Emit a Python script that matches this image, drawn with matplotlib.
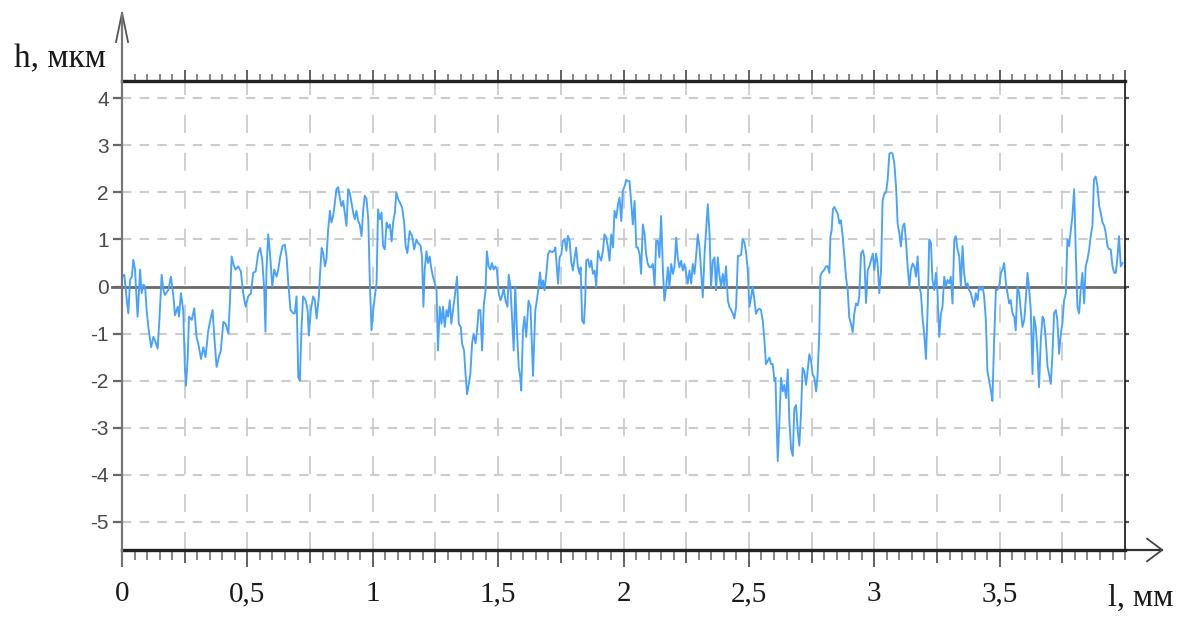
import numpy as np
import matplotlib.pyplot as plt
from matplotlib.ticker import MultipleLocator

seg1_l = [0.001, 0.009, 0.019, 0.025, 0.032, 0.039, 0.045, 0.052, 0.056, 0.062,
          0.072, 0.078, 0.085, 0.092, 0.098, 0.105, 0.116, 0.125, 0.131, 0.142,
          0.149, 0.158, 0.165, 0.171, 0.185, 0.195, 0.205, 0.211, 0.222, 0.227,
          0.235, 0.244, 0.251, 0.255, 0.262, 0.267, 0.278, 0.288, 0.297, 0.304,
          0.315, 0.324, 0.333, 0.344, 0.355, 0.361, 0.368, 0.377, 0.386, 0.394,
          0.404, 0.413, 0.424, 0.430, 0.437, 0.445, 0.453, 0.463, 0.474, 0.483,
          0.493, 0.503, 0.514, 0.523, 0.533, 0.543, 0.551, 0.559, 0.567, 0.572,
          0.576, 0.583, 0.590, 0.599, 0.607, 0.616, 0.623, 0.631, 0.640, 0.649,
          0.656, 0.663, 0.672, 0.683, 0.689, 0.696, 0.703, 0.709, 0.716, 0.722,
          0.732, 0.740, 0.745, 0.753, 0.762, 0.769, 0.776]
seg1_h = [0.21, 0.25, -0.29, -0.57, 0.14, 0.21, 0.57, 0.36, -0.07, -0.64,
          0.36, -0.14, 0.04, 0.0, -0.5, -0.86, -1.29, -1.07, -1.14, -1.32,
          -0.71, 0.25, -0.07, -0.18, -0.07, 0.21, -0.21, -0.61, -0.43, -0.64,
          -0.14, -0.5, -1.79, -2.11, -1.5, -0.64, -0.71, -0.46, -1.07, -1.21,
          -1.54, -1.29, -1.5, -0.93, -0.64, -0.5, -1.07, -1.71, -1.5, -1.36,
          -0.75, -0.79, -1.0, -0.36, 0.64, 0.46, 0.36, 0.43, 0.32, -0.14,
          -0.43, -0.21, -0.14, 0.29, 0.32, 0.71, 0.82, 0.57, -0.07, -0.96,
          0.36, 1.11, 0.71, 0.0, 0.36, 0.21, 0.36, 0.64, 0.86, 0.89,
          0.64, 0.07, -0.5, -0.57, -0.57, -0.21, -1.93, -2.0, -0.86, -0.21,
          -0.29, -0.5, -1.04, -0.5, -0.21, -0.29, -0.68]

seg2_l = [0.785, 0.789, 0.796, 0.802, 0.809, 0.815, 0.822, 0.829, 0.835, 0.842,
          0.849, 0.855, 0.862, 0.869, 0.875, 0.882, 0.888, 0.895, 0.902, 0.908,
          0.915, 0.922, 0.928, 0.935, 0.942, 0.948, 0.955, 0.962, 0.968, 0.975,
          0.982, 0.988, 0.995, 1.002, 1.008, 1.015, 1.021, 1.028, 1.035, 1.041,
          1.048, 1.055, 1.061, 1.068, 1.075, 1.081, 1.088, 1.094, 1.101, 1.108,
          1.117, 1.125, 1.131, 1.138, 1.147, 1.157, 1.165, 1.174, 1.180, 1.191,
          1.196, 1.202, 1.207, 1.214, 1.220, 1.227, 1.234, 1.240, 1.247, 1.254,
          1.260, 1.267, 1.274, 1.280, 1.287, 1.294, 1.300, 1.307, 1.313, 1.320,
          1.327, 1.336, 1.343, 1.351, 1.356, 1.364, 1.369, 1.376, 1.383, 1.389,
          1.396, 1.402, 1.410, 1.417, 1.422, 1.429, 1.436, 1.443, 1.449, 1.455,
          1.462, 1.469, 1.475, 1.482, 1.489, 1.495, 1.502, 1.509, 1.515, 1.522,
          1.529, 1.537, 1.542, 1.549, 1.555, 1.562, 1.568, 1.575, 1.582, 1.588,
          1.592, 1.599, 1.605]
seg2_h = [-0.21, 0.21, 0.82, 0.71, 0.43, 0.57, 1.21, 1.61, 1.36, 1.5,
          1.79, 2.07, 2.11, 1.86, 1.71, 1.82, 1.57, 1.29, 2.07, 2.0,
          1.79, 1.57, 1.43, 1.61, 1.39, 1.32, 1.07, 1.64, 1.93, 1.86,
          1.43, 0.14, -0.93, -0.5, -0.21, 0.07, 1.64, 1.43, 1.57, 0.86,
          0.79, 1.36, 1.25, 1.32, 0.96, 1.36, 1.57, 2.0, 1.86, 1.79,
          1.68, 1.36, 0.86, 0.71, 1.18, 1.07, 0.79, 1.0, 0.93, 0.86,
          0.64, -0.43, 0.36, 0.75, 0.5, 0.64, 0.36, 0.21, 0.07, -0.07,
          -1.36, -0.43, -0.79, -0.43, -0.86, -0.5, -0.64, -0.29, -0.79, -0.5,
          -0.21, 0.21, -0.79, -0.86, -1.21, -1.36, -1.79, -2.29, -2.07, -1.86,
          -1.21, -1.0, -1.21, -0.86, -0.5, -0.5, -1.36, -0.36, -0.14, 0.75,
          0.43, 0.36, 0.5, 0.36, 0.43, 0.36, -0.14, -0.29, -0.21, -0.04,
          -0.29, -0.43, 0.25, 0.0, -0.64, -1.36, 0.0, -0.93, -1.71, -1.93,
          -2.21, -0.93, -0.64]

seg3_l = [1.612, 1.621, 1.629, 1.635, 1.639, 1.643, 1.648, 1.656, 1.661, 1.667,
          1.672, 1.679, 1.685, 1.692, 1.699, 1.705, 1.715, 1.723, 1.728, 1.735,
          1.739, 1.745, 1.752, 1.758, 1.765, 1.772, 1.778, 1.785, 1.791, 1.798,
          1.805, 1.811, 1.818, 1.825, 1.829, 1.835, 1.842, 1.847, 1.851, 1.858,
          1.865, 1.871, 1.878, 1.885, 1.891, 1.898, 1.905, 1.911, 1.918, 1.924,
          1.931, 1.938, 1.944, 1.951, 1.958, 1.964, 1.971, 1.978, 1.984, 1.991,
          1.997, 2.004, 2.011, 2.017, 2.024, 2.031, 2.037, 2.044, 2.051, 2.057,
          2.064, 2.070, 2.077, 2.084, 2.090, 2.097, 2.104, 2.110, 2.117, 2.124,
          2.130, 2.137, 2.143, 2.150, 2.157, 2.163, 2.170, 2.177, 2.183, 2.190,
          2.197, 2.203, 2.210, 2.216, 2.223, 2.230, 2.236, 2.243, 2.250, 2.256,
          2.263, 2.270, 2.276, 2.283, 2.290, 2.296, 2.303, 2.309, 2.316, 2.323,
          2.329, 2.336, 2.343, 2.349, 2.356, 2.363, 2.369, 2.376, 2.382, 2.389,
          2.396]
seg3_h = [-1.07, -0.3, -0.44, -1.28, -1.9, -1.28, -0.51, -0.23, -0.01, 0.3,
          -0.01, 0.13, -0.08, 0.27, 0.69, 0.76, 0.73, 0.76, 0.83, 0.34,
          0.06, 0.62, 0.69, 0.97, 1.01, 0.76, 1.08, 0.97, 0.55, 0.34,
          0.62, 0.83, 0.41, 0.27, 0.41, -0.72, -0.79, -0.3, 0.55, 0.58,
          0.41, 0.55, 0.27, 0.34, -0.01, 0.76, 0.62, 0.55, 0.76, 1.11,
          1.04, 0.83, 0.55, 1.11, 0.83, 1.61, 1.46, 1.75, 1.89, 1.39,
          2.03, 2.13, 2.27, 2.24, 2.24, 1.75, 1.32, 1.82, 0.83, 0.83,
          0.69, 0.27, 1.32, 1.11, 0.69, 0.48, 0.41, 0.41, 0.48, 0.02,
          0.97, 0.97, 0.62, 1.5, 0.34, -0.3, -0.01, 0.41, -0.01, 0.48,
          0.27, 0.41, 1.04, 0.62, 0.41, 0.55, 0.34, 0.48, 0.27, 0.06,
          0.34, 0.06, 0.48, 0.27, 0.69, 1.11, 0.83, 0.34, -0.23, 0.69,
          1.18, 1.75, 1.11, -0.01, 0.55, 0.62, -0.08, 0.62, 0.27, -0.01,
          0.27]

seg4_l = [2.402, 2.409, 2.416, 2.422, 2.429, 2.436, 2.442, 2.449, 2.456, 2.462,
          2.469, 2.475, 2.482, 2.489, 2.495, 2.502, 2.509, 2.515, 2.522, 2.528,
          2.535, 2.542, 2.548, 2.555, 2.562, 2.568, 2.575, 2.582, 2.588, 2.595,
          2.602, 2.606, 2.610, 2.615, 2.622, 2.628, 2.635, 2.641, 2.648, 2.655,
          2.661, 2.668, 2.675, 2.681, 2.688, 2.695, 2.701, 2.708, 2.714, 2.721,
          2.728, 2.734, 2.741, 2.748, 2.754, 2.761, 2.768, 2.774, 2.781, 2.785,
          2.790, 2.801, 2.807, 2.814, 2.821]
seg4_h = [0.0, 0.43, -0.29, -0.43, -0.5, -0.58, -0.68, -0.43, 0.65, 0.65,
          0.68, 1.01, 0.94, 0.72, 0.36, -0.43, -0.22, 0.0, -0.29, -0.58,
          -0.5, -0.47, -0.5, -0.72, -1.15, -1.65, -1.58, -1.51, -1.65, -1.65,
          -2.01, -1.94, -2.81, -3.71, -2.81, -1.94, -2.23, -2.09, -2.37, -1.76,
          -2.81, -3.45, -3.6, -2.59, -2.52, -3.09, -3.38, -2.66, -1.73, -1.8,
          -2.09, -1.8, -1.44, -1.58, -1.87, -1.94, -2.23, -1.87, -0.94, 0.22,
          0.29, 0.36, 0.43, 0.43, 0.29]

seg5_l = [2.825, 2.830, 2.835, 2.841, 2.847, 2.854, 2.861, 2.867, 2.874, 2.881,
          2.887, 2.894, 2.900, 2.907, 2.914, 2.920, 2.927, 2.934, 2.940, 2.947,
          2.954, 2.960, 2.967, 2.974, 2.980, 2.987, 2.994, 3.000, 3.007, 3.013,
          3.020, 3.027, 3.033, 3.040, 3.047, 3.053, 3.060, 3.067, 3.073, 3.080,
          3.087, 3.093, 3.100, 3.106, 3.113, 3.120, 3.126, 3.133, 3.140, 3.146,
          3.153, 3.160, 3.166]
seg5_h = [1.06, 1.2, 1.65, 1.69, 1.62, 1.55, 1.34, 1.41, 1.06, 0.63,
          0.21, -0.07, -0.65, -0.79, -0.97, -0.58, -0.36, -0.4, -0.22, 0.7,
          0.77, 0.63, -0.35, 0.35, 0.42, 0.56, 0.7, 0.35, 0.7, 0.49,
          -0.14, 0.35, 1.83, 1.97, 2.0, 2.25, 2.82, 2.85, 2.82, 2.61,
          2.11, 1.34, 1.13, 0.85, 1.27, 1.34, 0.99, 0.42, 0.0, 0.35,
          0.49, 0.42, 0.21]

seg6_l = [3.173, 3.179, 3.186, 3.193, 3.199, 3.206, 3.213, 3.219, 3.226, 3.232,
          3.239, 3.246, 3.252, 3.259, 3.266, 3.272, 3.279, 3.286, 3.292, 3.299,
          3.305, 3.312, 3.319, 3.325, 3.332, 3.339, 3.345, 3.352, 3.358, 3.365,
          3.372, 3.378, 3.385, 3.392, 3.398, 3.405, 3.412, 3.418, 3.425, 3.432,
          3.438, 3.445, 3.451, 3.458, 3.465, 3.471, 3.478, 3.485, 3.491, 3.498,
          3.505, 3.511, 3.518, 3.525, 3.531, 3.538, 3.544, 3.551, 3.558, 3.564,
          3.571, 3.578, 3.584, 3.591, 3.598, 3.604, 3.611, 3.618, 3.624, 3.631,
          3.637, 3.644, 3.651, 3.657, 3.664, 3.671, 3.677, 3.684, 3.691, 3.697,
          3.704, 3.710, 3.717, 3.724, 3.730, 3.737, 3.744, 3.750, 3.757, 3.764,
          3.770, 3.777, 3.784, 3.790, 3.797, 3.804, 3.810, 3.817, 3.823, 3.830,
          3.837, 3.843, 3.850, 3.857, 3.863, 3.870, 3.876, 3.883, 3.890, 3.897,
          3.903, 3.910, 3.917, 3.923, 3.930, 3.937, 3.943, 3.950, 3.957, 3.963,
          3.970, 3.976, 3.983, 3.990]
seg6_h = [0.64, 0.0, -0.14, -0.71, -1.0, -1.54, -0.43, 1.0, 0.93, 0.14,
          -0.07, 0.29, -0.14, -1.07, -0.57, -0.43, 0.21, 0.0, 0.14, 0.07,
          0.21, -0.36, 1.0, 1.07, 0.79, 0.64, 0.0, 0.86, 0.29, 0.0,
          0.07, -0.07, -0.14, -0.29, -0.43, -0.14, -0.29, 0.0, -0.07, 0.0,
          -0.21, -0.71, -1.79, -2.0, -2.21, -2.43, -1.14, -0.07, -0.07, 0.0,
          0.29, 0.36, 0.5, 0.07, -0.14, -0.36, -0.29, -0.57, -0.64, -0.93,
          0.0, -0.14, -0.5, -0.86, -0.71, -0.29, 0.29, -0.07, -0.5, -1.86,
          -0.64, -0.86, -1.43, -2.14, -1.14, -0.64, -0.71, -1.14, -1.71, -1.86,
          -2.07, -1.5, -0.57, -0.5, -0.71, -1.43, -1.0, -0.79, -0.29, -0.14,
          1.0, 0.86, 1.21, 1.5, 2.07, 0.64, -0.43, -0.57, -0.07, 0.29,
          -0.36, 0.43, 0.57, 0.79, 1.07, 1.29, 2.27, 2.34, 2.13, 1.71,
          1.57, 1.36, 1.29, 1.14, 0.86, 0.79, 0.79, 0.43, 0.29, 0.29,
          0.64, 1.07, 0.43, 0.5]

x_ticks = [0, 0.5, 1, 1.5, 2, 2.5, 3, 3.5]
x_tick_labels = ['0', '0,5', '1', '1,5', '2', '2,5', '3', '3,5']
y_ticks = [4, 3, 2, 1, 0, -1, -2, -3, -4, -5]

l_mm = np.concatenate([seg1_l, seg2_l, seg3_l, seg4_l, seg5_l, seg6_l])
h_um = np.concatenate([seg1_h, seg2_h, seg3_h, seg4_h, seg5_h, seg6_h])

serif = ['Liberation Serif', 'DejaVu Serif']
sans = ['Liberation Sans Narrow', 'Liberation Sans', 'DejaVu Sans']

fig = plt.figure(figsize=(11.86, 6.19), dpi=100)
ax = fig.add_axes([0.1029, 0.1115, 0.8457, 0.7577])
ax.set_xlim(0, 4.0)
ax.set_ylim(-5.6, 4.37)

# сетка
for xv in np.arange(0.25, 4.0, 0.25):
    ax.axvline(xv, color='#cccccc', lw=1.3, dashes=(10, 11), zorder=1)
for yv in y_ticks:
    if yv != 0:
        ax.axhline(yv, color='#cccccc', lw=1.5, dashes=(4.5, 4), zorder=1)
ax.axhline(0, xmin=-0.01, xmax=1, color='#6a6a6a', lw=2, zorder=2, clip_on=False)

ax.plot(l_mm, h_um, color='#47a1ff', lw=1.35, zorder=3)

# рамка
ax.spines['left'].set_visible(False)
ax.spines['top'].set_linewidth(2.4)
ax.spines['top'].set_color('#222222')
ax.spines['bottom'].set_linewidth(2.4)
ax.spines['bottom'].set_color('#222222')
ax.spines['right'].set_linewidth(1.2)
ax.spines['right'].set_color('#111111')

# ось h со стрелкой
ax.plot([0, 0], [-0.032, 1.145], transform=ax.transAxes, color='#777777',
        lw=1.6, clip_on=False, zorder=4)
ax.plot([-0.006, 0, 0.006], [1.083, 1.145, 1.083], transform=ax.transAxes,
        color='#555555', lw=1.3, clip_on=False)
# ось l со стрелкой
ax.plot([1.0, 1.037], [0, 0], transform=ax.transAxes, color='#333333',
        lw=1.6, clip_on=False)
ax.plot([1.022, 1.037, 1.022], [0.024, 0, -0.024], transform=ax.transAxes,
        color='#444444', lw=1.3, clip_on=False)

# деления по x
ax.set_xticks(x_ticks)
ax.set_xticklabels(x_tick_labels, fontfamily=serif, fontsize=21, color='#1a1a1a')
ax.xaxis.set_minor_locator(MultipleLocator(0.05))
ax.tick_params(axis='x', which='major', direction='out', length=12.5, width=1.3,
               color='#555555', pad=10)
ax.tick_params(axis='x', which='minor', direction='out', length=7, width=1.1,
               color='#666666')
mid = ax.secondary_xaxis('bottom')
mid.set_xticks([0.25, 0.75, 1.25, 1.75, 2.25, 2.75, 3.25, 3.75])
mid.tick_params(length=9, width=1.3, color='#555555', labelbottom=False)
mid.spines['bottom'].set_visible(False)

top = ax.secondary_xaxis('top')
top.xaxis.set_major_locator(MultipleLocator(0.25))
top.xaxis.set_minor_locator(MultipleLocator(0.05))
top.tick_params(which='major', length=8, width=1.3, color='#555555', labeltop=False)
top.tick_params(which='minor', length=5, width=1.1, color='#666666')
top.spines['top'].set_visible(False)

# деления по y
ax.set_yticks(y_ticks)
ax.set_yticklabels([str(v) for v in y_ticks], fontfamily=sans, fontsize=15,
                   color='#4a4a4a')
ax.tick_params(axis='y', direction='out', length=6.5, width=1.6,
               color='#666666', pad=3)
rgt = ax.secondary_yaxis('right')
rgt.set_yticks(y_ticks)
rgt.tick_params(length=3, width=1.6, color='#555555', labelright=False)
rgt.spines['right'].set_visible(False)

fig.text(0.0506, 0.905, 'h, мкм', fontfamily=serif, fontsize=24,
         ha='center', va='center', color='#1a1a1a')
fig.text(0.962, 0.033, 'l, мм', fontfamily=serif, fontsize=23,
         ha='center', va='center', color='#1a1a1a')

fig.savefig('out.png', dpi=100)
